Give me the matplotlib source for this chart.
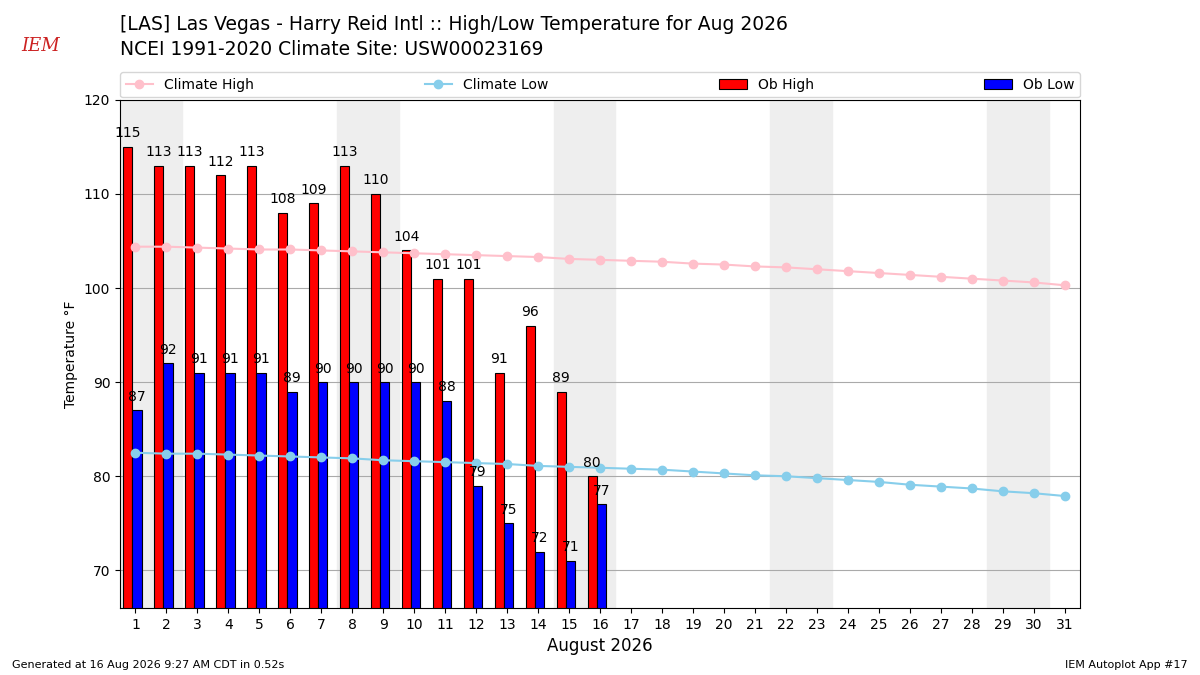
import numpy as np
import matplotlib
matplotlib.use("Agg")
import matplotlib.pyplot as plt

days = np.arange(1, 32)
ob_high = [115, 113, 113, 112, 113, 108, 109, 113, 110, 104, 101, 101, 91, 96, 89, 80]
ob_low = [87, 92, 91, 91, 91, 89, 90, 90, 90, 90, 88, 79, 75, 72, 71, 77]
clim_high = [104.4, 104.4, 104.3, 104.2, 104.1, 104.1, 104.0, 103.9, 103.8, 103.7, 103.6, 103.5,
             103.4, 103.3, 103.1, 103.0, 102.9, 102.8, 102.6, 102.5, 102.3, 102.2, 102.0, 101.8,
             101.6, 101.4, 101.2, 101.0, 100.8, 100.6, 100.3]
clim_low = [82.5, 82.4, 82.4, 82.3, 82.2, 82.1, 82.0, 81.9, 81.7, 81.6, 81.5, 81.4,
            81.3, 81.1, 81.0, 80.9, 80.8, 80.7, 80.5, 80.3, 80.1, 80.0, 79.8, 79.6,
            79.4, 79.1, 78.9, 78.7, 78.4, 78.2, 77.9]
weekends = [1, 8, 15, 22, 29]

fig = plt.figure(figsize=(12, 6.75), dpi=100)
ax = fig.add_axes([0.1, 0.0993, 0.8, 0.7527])

for w in weekends:
    ax.axvspan(w - 0.5, w + 1.5, color="#eeeeee", zorder=0)

n = len(ob_high)
ax.plot(days, clim_high, color="pink", marker="o", lw=1.5, label="Climate High", zorder=3)
ax.plot(days, clim_low, color="skyblue", marker="o", lw=1.5, label="Climate Low", zorder=3)
ax.bar(days[:n] - 0.4, ob_high, width=0.3, align="edge", color="red", edgecolor="k", linewidth=0.8, label="Ob High", zorder=2)
ax.bar(days[:n] - 0.1, ob_low, width=0.3, align="edge", color="blue", edgecolor="k", linewidth=0.8, label="Ob Low", zorder=2)
for d, v in zip(days[:n], ob_high):
    ax.text(d - 0.25, v + 0.7, str(v), ha="center", va="bottom", fontsize=10, zorder=4)
for d, v in zip(days[:n], ob_low):
    ax.text(d + 0.05, v + 0.7, str(v), ha="center", va="bottom", fontsize=10, zorder=4)

ax.set_xlim(0.5, 31.5)
ax.set_ylim(66, 120)
ax.set_xticks(days)
ax.set_yticks([70, 80, 90, 100, 110, 120])
ax.yaxis.grid(True, color="#aaaaaa", lw=0.8)
ax.set_axisbelow(True)
ax.set_ylabel("Temperature °F")
ax.set_xlabel("August 2026", fontsize=12)

ax.legend(ncol=4, loc="lower left", bbox_to_anchor=(0, 1.005, 1, 0.05),
          mode="expand", borderaxespad=0, fontsize=10)

fig.text(0.1, 0.955, "[LAS] Las Vegas - Harry Reid Intl :: High/Low Temperature for Aug 2026", fontsize=13.5)
fig.text(0.1, 0.918, "NCEI 1991-2020 Climate Site: USW00023169", fontsize=13.5)
fig.text(0.01, 0.01, "Generated at 16 Aug 2026 9:27 AM CDT in 0.52s", fontsize=8)
fig.text(0.99, 0.01, "IEM Autoplot App #17", fontsize=8, ha="right")
fig.text(0.018, 0.925, "IEM", fontsize=13, color="#cc2222", style="italic", family="serif")

fig.savefig("out.png")
